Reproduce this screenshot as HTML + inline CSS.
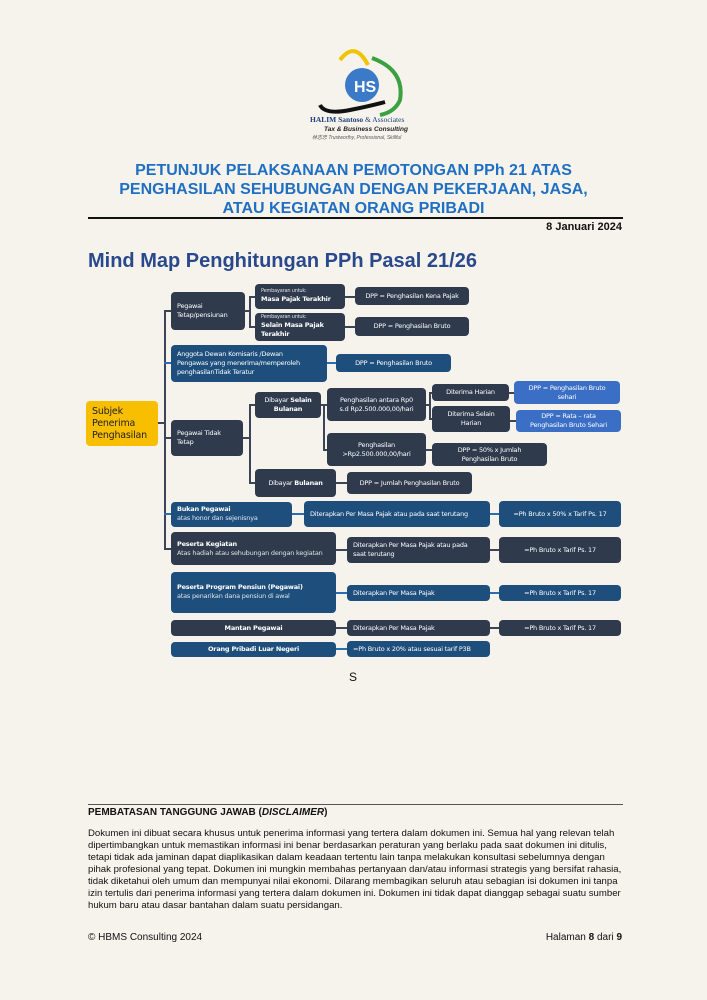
<!DOCTYPE html>
<html><head><meta charset="utf-8"><style>
body{margin:0;background:#f6f3ed;}
#p{position:relative;width:707px;height:1000px;background:#f6f3ed;font-family:"Liberation Sans",sans-serif;overflow:hidden}
.b{position:absolute;border-radius:4px;color:#fff;font-size:6.5px;line-height:9px;display:flex;align-items:center;justify-content:center;text-align:center;box-sizing:border-box;padding:0 3px;font-family:"DejaVu Sans","Liberation Sans",sans-serif;letter-spacing:-0.2px;white-space:nowrap}
.l{justify-content:flex-start;text-align:left;padding-left:6px}
.d{background:#2f3a4d}.u{background:#1d4e7c}.c{background:#3b6fc6}
.h{position:absolute;background:#3b4557;height:2px}
.v{position:absolute;background:#3b4557;width:2px}
.s{font-size:5px;line-height:7px;opacity:.85;font-weight:normal}
b{font-weight:bold}
.t{position:absolute;left:0;width:707px;text-align:center;color:#1f6fc2;font-weight:bold;font-size:16px;line-height:19px}
.x{position:absolute;font-size:10px;color:#111;white-space:nowrap}
</style></head><body><div id="p">
<svg style="position:absolute;left:310px;top:40px" width="110" height="100" viewBox="0 0 110 100">
<path d="M30 20 Q45 0 58 25" stroke="#f0c400" stroke-width="4" fill="none"/>
<path d="M62 18 Q95 30 90 60 Q85 72 70 75" stroke="#3aa040" stroke-width="4" fill="none"/>
<path d="M10 65 Q15 75 40 70 Q60 66 75 62" stroke="#111" stroke-width="4" fill="none"/>
<circle cx="52" cy="45" r="17" fill="#3b7ac8"/>
<text x="44" y="52" font-size="16" fill="#fff" font-family="Liberation Sans" font-weight="bold">HS</text>
<text x="0" y="82" font-size="7.5" fill="#1d3f7a" font-family="Liberation Serif" font-weight="bold">HALIM Santoso <tspan font-weight="normal">&amp; Associates</tspan></text>
<text x="14" y="91" font-size="6.5" fill="#222" font-family="Liberation Sans" font-style="italic" font-weight="bold">Tax &amp; Business Consulting</text>
<text x="2" y="99" font-size="5" fill="#555" font-family="Liberation Sans" font-style="italic">林志忠 Trustworthy, Professional, Skillful</text>
</svg>
<div class="t" style="top:161px">PETUNJUK PELAKSANAAN PEMOTONGAN PPh 21 ATAS</div>
<div class="t" style="top:180px">PENGHASILAN SEHUBUNGAN DENGAN PEKERJAAN, JASA,</div>
<div class="t" style="top:199px">ATAU KEGIATAN ORANG PRIBADI</div>
<div style="position:absolute;left:88px;top:217px;width:535px;height:2px;background:#111"></div>
<div class="x" style="right:85px;top:221px;font-weight:bold;font-size:11px">8 Januari 2024</div>
<div style="position:absolute;left:88px;top:250px;font-size:20px;font-weight:bold;color:#29498c;white-space:nowrap">Mind Map Penghitungan PPh Pasal 21/26</div>

<div class="h" style="left:158px;top:422px;width:7px"></div>
<div class="v" style="left:164px;top:310px;height:239px"></div>
<div class="h" style="left:164px;top:310px;width:8px"></div>
<div class="h" style="left:164px;top:362px;width:8px;background:#2a6db3"></div>
<div class="h" style="left:164px;top:437px;width:8px"></div>
<div class="h" style="left:164px;top:513px;width:8px;background:#2a6db3"></div>
<div class="h" style="left:164px;top:548px;width:8px"></div>
<div class="h" style="left:245px;top:310px;width:5px"></div>
<div class="v" style="left:249px;top:296px;height:32px"></div>
<div class="h" style="left:249px;top:296px;width:7px"></div>
<div class="h" style="left:249px;top:326px;width:7px"></div>
<div class="h" style="left:345px;top:296px;width:10px"></div>
<div class="h" style="left:345px;top:326px;width:10px"></div>
<div class="h" style="left:327px;top:362px;width:10px;background:#2a6db3"></div>
<div class="h" style="left:243px;top:437px;width:6px"></div>
<div class="v" style="left:249px;top:404px;height:80px"></div>
<div class="h" style="left:249px;top:404px;width:7px"></div>
<div class="h" style="left:249px;top:482px;width:7px"></div>
<div class="h" style="left:321px;top:404px;width:6px"></div>
<div class="v" style="left:323px;top:404px;height:47px"></div>
<div class="h" style="left:323px;top:449px;width:5px"></div>
<div class="h" style="left:426px;top:404px;width:4px"></div>
<div class="v" style="left:429px;top:392px;height:28px"></div>
<div class="h" style="left:429px;top:392px;width:4px"></div>
<div class="h" style="left:429px;top:418px;width:4px"></div>
<div class="h" style="left:509px;top:392px;width:6px"></div>
<div class="h" style="left:510px;top:420px;width:6px"></div>
<div class="h" style="left:426px;top:449px;width:7px"></div>
<div class="h" style="left:336px;top:482px;width:11px"></div>
<div class="h" style="left:292px;top:513px;width:12px;background:#2a6db3"></div>
<div class="h" style="left:490px;top:513px;width:9px;background:#2a6db3"></div>
<div class="h" style="left:336px;top:549px;width:11px"></div>
<div class="h" style="left:490px;top:549px;width:9px"></div>
<div class="h" style="left:336px;top:592px;width:11px;background:#2a6db3"></div>
<div class="h" style="left:490px;top:592px;width:9px;background:#2a6db3"></div>
<div class="h" style="left:336px;top:627px;width:11px"></div>
<div class="h" style="left:490px;top:627px;width:9px"></div>
<div class="h" style="left:336px;top:648px;width:11px;background:#2a6db3"></div>

<div class="b l" style="left:86px;top:401px;width:72px;height:45px;background:#f8be00;color:#222;font-size:9.5px;line-height:12px">Subjek<br>Penerima<br>Penghasilan</div>
<div class="b d l" style="left:171px;top:292px;width:74px;height:38px">Pegawai<br>Tetap/pensiunan</div>
<div class="b d l" style="left:255px;top:284px;width:90px;height:25px;display:block;padding-top:4px"><div class="s">Pembayaran untuk:</div><b>Masa Pajak Terakhir</b></div>
<div class="b d l" style="left:255px;top:313px;width:90px;height:28px;display:block;padding-top:1px"><div class="s">Pembayaran untuk:</div><b>Selain Masa Pajak<br>Terakhir</b></div>
<div class="b d" style="left:355px;top:287px;width:114px;height:18px">DPP = Penghasilan Kena Pajak</div>
<div class="b d" style="left:355px;top:317px;width:114px;height:19px">DPP = Penghasilan Bruto</div>
<div class="b u l" style="left:171px;top:345px;width:156px;height:37px">Anggota Dewan Komisaris /Dewan<br>Pengawas yang menerima/memperoleh<br>penghasilanTidak Teratur</div>
<div class="b u" style="left:336px;top:354px;width:115px;height:18px">DPP = Penghasilan Bruto</div>
<div class="b d l" style="left:171px;top:420px;width:72px;height:36px">Pegawai Tidak<br>Tetap</div>
<div class="b d" style="left:255px;top:392px;width:66px;height:26px;display:block;padding-top:4px">Dibayar <b>Selain</b><br><b>Bulanan</b></div>
<div class="b d" style="left:327px;top:388px;width:99px;height:33px">Penghasilan antara Rp0<br>s.d Rp2.500.000,00/hari</div>
<div class="b d" style="left:432px;top:384px;width:77px;height:17px">Diterima Harian</div>
<div class="b d" style="left:432px;top:406px;width:78px;height:26px">Diterima Selain<br>Harian</div>
<div class="b c" style="left:514px;top:381px;width:106px;height:23px">DPP = Penghasilan Bruto<br>sehari</div>
<div class="b c" style="left:516px;top:410px;width:105px;height:22px">DPP = Rata – rata<br>Penghasilan Bruto Sehari</div>
<div class="b d" style="left:327px;top:433px;width:99px;height:33px">Penghasilan<br>&gt;Rp2.500.000,00/hari</div>
<div class="b d" style="left:432px;top:443px;width:115px;height:23px">DPP = 50% x Jumlah<br>Penghasilan Bruto</div>
<div class="b d" style="left:255px;top:469px;width:81px;height:28px">Dibayar&nbsp;<b>Bulanan</b></div>
<div class="b d" style="left:347px;top:472px;width:125px;height:22px">DPP = Jumlah Penghasilan Bruto</div>
<div class="b u l" style="left:171px;top:502px;width:121px;height:25px;display:block;padding-top:3px"><b>Bukan Pegawai</b><br><span style="opacity:.85">atas honor dan sejenisnya</span></div>
<div class="b u l" style="left:304px;top:501px;width:186px;height:26px">Diterapkan Per Masa Pajak atau pada saat terutang</div>
<div class="b u" style="left:499px;top:501px;width:122px;height:26px">=Ph Bruto x 50% x Tarif Ps. 17</div>
<div class="b d l" style="left:171px;top:532px;width:165px;height:33px;display:block;padding-top:8px"><b>Peserta Kegiatan</b><br><span style="opacity:.85">Atas hadiah atau sehubungan dengan kegiatan</span></div>
<div class="b d l" style="left:347px;top:537px;width:143px;height:26px">Diterapkan Per Masa Pajak atau pada<br>saat terutang</div>
<div class="b d" style="left:499px;top:537px;width:122px;height:26px">=Ph Bruto x Tarif Ps. 17</div>
<div class="b u l" style="left:171px;top:572px;width:165px;height:41px;display:block;padding-top:11px"><b>Peserta Program Pensiun (Pegawai)</b><br><span style="opacity:.85">atas penarikan dana pensiun di awal</span></div>
<div class="b u l" style="left:347px;top:585px;width:143px;height:16px">Diterapkan Per Masa Pajak</div>
<div class="b u" style="left:499px;top:585px;width:122px;height:16px">=Ph Bruto x Tarif Ps. 17</div>
<div class="b d" style="left:171px;top:620px;width:165px;height:16px"><b>Mantan Pegawai</b></div>
<div class="b d l" style="left:347px;top:620px;width:143px;height:16px">Diterapkan Per Masa Pajak</div>
<div class="b d" style="left:499px;top:620px;width:122px;height:16px">=Ph Bruto x Tarif Ps. 17</div>
<div class="b u" style="left:171px;top:642px;width:165px;height:15px"><b>Orang Pribadi Luar Negeri</b></div>
<div class="b u l" style="left:347px;top:641px;width:143px;height:16px">=Ph Bruto x 20% atau sesuai tarif P3B</div>

<div class="x" style="left:349px;top:670px;font-size:12px">S</div>

<div style="position:absolute;left:88px;top:804px;width:535px;height:1px;background:#555"></div>
<div class="x" style="left:88px;top:807px;font-weight:bold">PEMBATASAN TANGGUNG JAWAB (<i>DISCLAIMER</i>)</div>
<div class="x" style="left:88px;top:828px;line-height:12px;font-size:9.6px">Dokumen ini dibuat secara khusus untuk penerima informasi yang tertera dalam dokumen ini. Semua hal yang relevan telah<br>dipertimbangkan untuk memastikan informasi ini benar berdasarkan peraturan yang berlaku pada saat dokumen ini ditulis,<br>tetapi tidak ada jaminan dapat diaplikasikan dalam keadaan tertentu lain tanpa melakukan konsultasi sebelumnya dengan<br>pihak profesional yang tepat. Dokumen ini mungkin membahas pertanyaan dan/atau informasi strategis yang bersifat rahasia,<br>tidak diketahui oleh umum dan mempunyai nilai ekonomi. Dilarang membagikan seluruh atau sebagian isi dokumen ini tanpa<br>izin tertulis dari penerima informasi yang tertera dalam dokumen ini. Dokumen ini tidak dapat dianggap sebagai suatu sumber<br>hukum baru atau dasar bantahan dalam suatu persidangan.</div>
<div class="x" style="left:88px;top:932px">© HBMS Consulting 2024</div>
<div class="x" style="right:85px;top:932px">Halaman <b>8</b> dari <b>9</b></div>
</div></body></html>
